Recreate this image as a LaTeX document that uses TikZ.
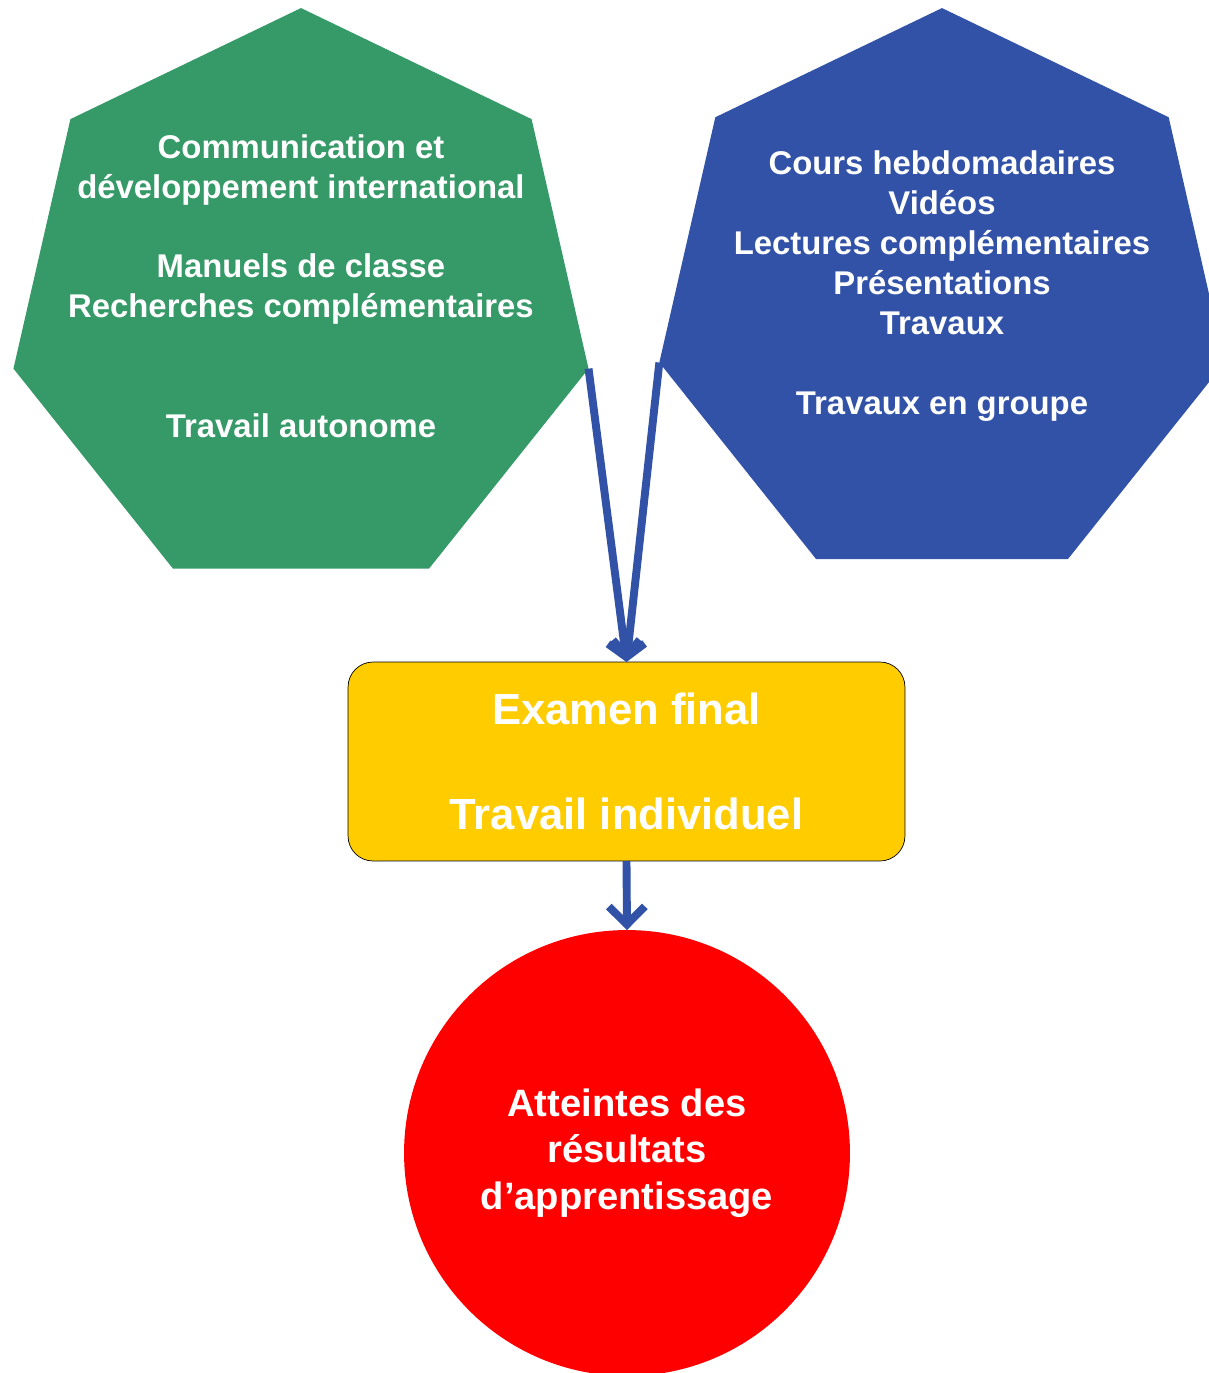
\documentclass[tikz,border=0pt]{standalone}
\usepackage{fontspec}
\setmainfont{Liberation Sans}
\usetikzlibrary{shapes.geometric,arrows.meta}
\definecolor{hepgreen}{RGB}{53,153,104}
\definecolor{hepblue}{RGB}{50,82,168}
\definecolor{examyellow}{RGB}{255,204,0}
\tikzstyle{line} = [draw, hepblue, line width=4.5pt, -{Straight Barb[length=3mm,width=6.4mm]}]
\tikzstyle{heptagon} = [regular polygon, regular polygon sides=7, inner sep=0pt, outer sep=0pt]
\tikzstyle{hepttext} = [text=white, align=center, font=\bfseries\fontsize{18.7}{22.7}\selectfont]
\tikzstyle{block} = [draw, fill=examyellow, rectangle, rounded corners=0.5cm, minimum width=11.14cm, minimum height=3.98cm, outer sep=0pt, text=white, align=center, font=\bfseries\fontsize{24.8}{30}\selectfont]
\tikzstyle{goal} = [circle, fill=red, minimum size=8.92cm, inner sep=0pt, outer sep=0pt, text=white, align=center, font=\bfseries\fontsize{21.7}{26.4}\selectfont]

\begin{document}
\begin{tikzpicture}[x=0.02cm, y=-0.02cm]
        \useasboundingbox (0,0) rectangle (1209,1373);
        \clip (0,0) rectangle (1209,1373);
        \node[heptagon, fill=hepgreen, minimum size=11.8cm] (sources) at (301,303) {};
        \node[heptagon, fill=hepblue, minimum size=11.6cm] (activities) at (942,298) {};
        \node[hepttext] (sourcestext) at (301,286) {Communication et\\développement international\\[22.7pt]Manuels de classe\\Recherches complémentaires\\[45.4pt]Travail autonome};
        \node[hepttext] (activitiestext) at (942,286) {Cours hebdomadaires\\Vidéos\\Lectures complémentaires\\Présentations\\Travaux\\[22.7pt]Travaux en groupe};
        \node[block] (exam) at (626.5,761.5) {Examen final\\[30pt]Travail individuel};
        \node[goal] (results) at (627,1153) {Atteintes des\\résultats\\d’apprentissage};
        \path[line] (sources.corner 6) -- (exam.north);
        \path[line] (activities.corner 3) -- (exam.north);
        \path[line, -{Straight Barb[length=3.6mm,width=7.2mm]}] (exam.south) -- (results.north);
    \end{tikzpicture}
\end{document}
